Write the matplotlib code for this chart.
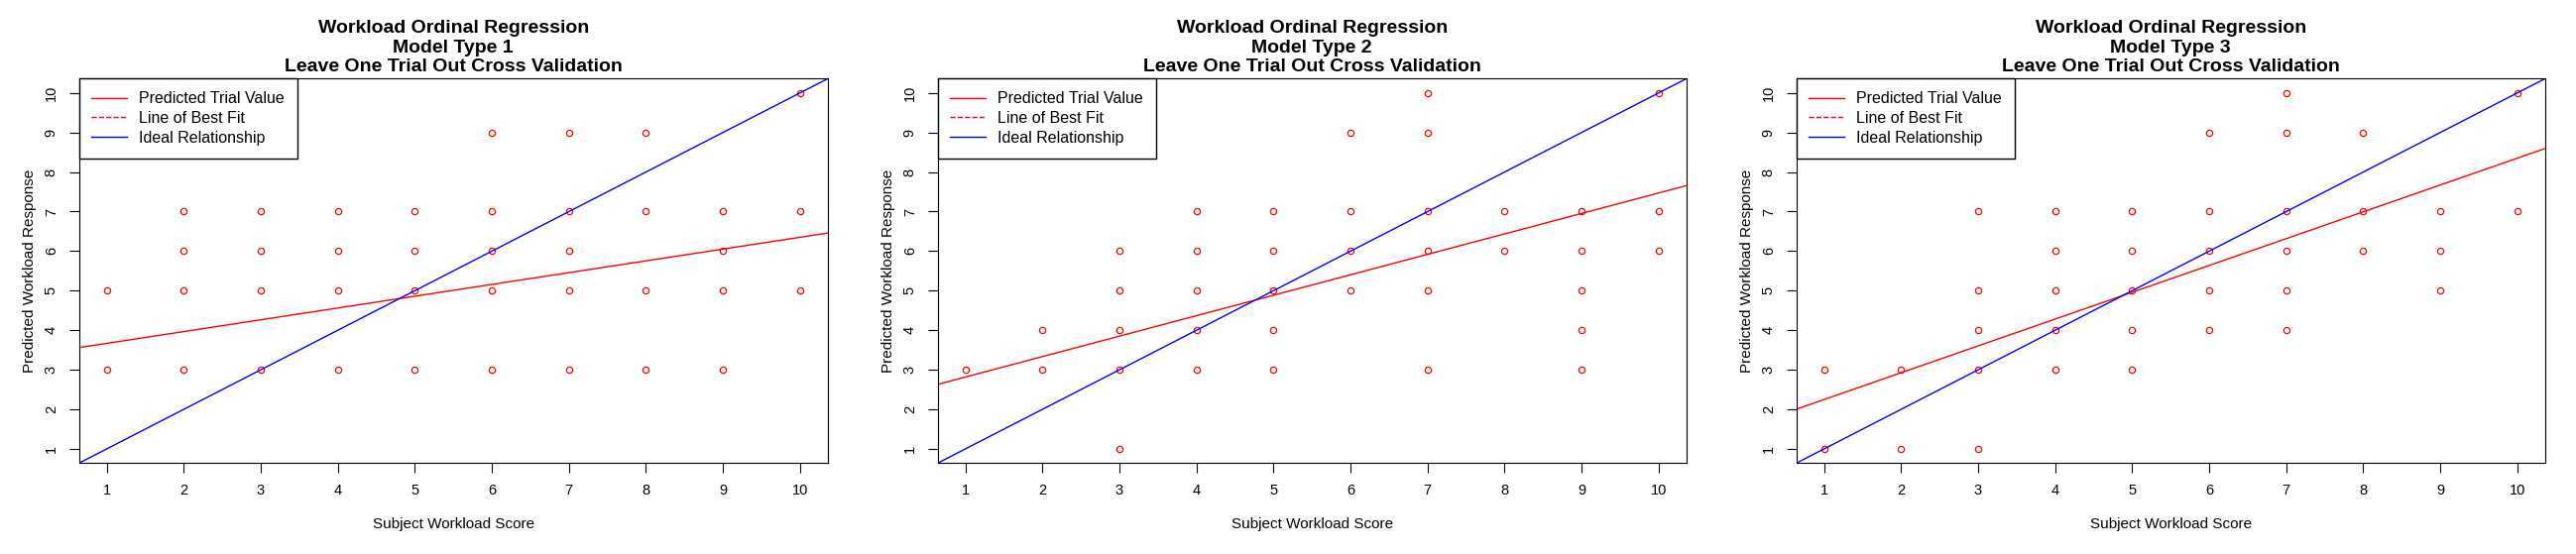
import matplotlib.pyplot as plt

plt.rcParams['font.family'] = ['Liberation Sans', 'DejaVu Sans']

scores = list(range(1, 11))

# predicted responses per subject workload score, one dict per model type
model1 = {1: [3, 5], 2: [3, 5, 6, 7], 3: [3, 5, 6, 7], 4: [3, 5, 6, 7], 5: [3, 5, 6, 7],
          6: [3, 5, 6, 7, 9], 7: [3, 5, 6, 7, 9], 8: [3, 5, 7, 9], 9: [3, 5, 6, 7], 10: [5, 7, 10]}
model2 = {1: [3], 2: [3, 4], 3: [1, 3, 4, 5, 6], 4: [3, 4, 5, 6, 7], 5: [3, 4, 5, 6, 7],
          6: [5, 6, 7, 9], 7: [3, 5, 6, 7, 9, 10], 8: [6, 7], 9: [3, 4, 5, 6, 7], 10: [6, 7, 10]}
model3 = {1: [1, 3], 2: [1, 3], 3: [1, 3, 4, 5, 7], 4: [3, 4, 5, 6, 7], 5: [3, 4, 5, 6, 7],
          6: [4, 5, 6, 7, 9], 7: [4, 5, 6, 7, 9, 10], 8: [6, 7, 9], 9: [5, 6, 7], 10: [7, 10]}
models = [model1, model2, model3]

# line of best fit (intercept, slope)
fits = [(3.37, 0.298), (2.30, 0.517), (1.57, 0.678)]

fig = plt.figure(figsize=(25.98, 5.59), dpi=100)

for i, (data, (b0, b1)) in enumerate(zip(models, fits)):
    ax = fig.add_axes([i / 3 + 0.092 / 3, 0.164, 0.872 / 3, 0.694])
    xs = [x for x in scores for _ in data[x]]
    ys = [y for x in scores for y in data[x]]
    ax.plot(xs, ys, 'o', ms=4.5, mfc='none', mec='red', mew=0.9, ls='none')
    lo, hi = 0.64, 10.36
    ax.plot([lo, hi], [b0 + b1 * lo, b0 + b1 * hi], color='red', lw=1)
    ax.plot([lo, hi], [lo, hi], color='blue', lw=1)
    ax.set_xlim(lo, hi)
    ax.set_ylim(lo, hi)
    ax.set_xticks(scores)
    ax.set_yticks(scores)
    ax.tick_params(labelsize=10.5, length=7, pad=8)
    for lab in ax.get_yticklabels():
        lab.set_rotation(90)
        lab.set_va('center')
    ax.set_title(f"Workload Ordinal Regression\nModel Type {i + 1}\nLeave One Trial Out Cross Validation",
                 fontsize=14, fontweight='bold', linespacing=1.2, pad=5)
    ax.set_xlabel("Subject Workload Score", fontsize=11, labelpad=14)
    ax.set_ylabel("Predicted Workload Response", fontsize=11, labelpad=6)
    h1, = ax.plot([], [], color='red', lw=1)
    h2, = ax.plot([], [], color='red', lw=1, ls='--')
    h3, = ax.plot([], [], color='blue', lw=1)
    leg = ax.legend([h1, h2, h3], ["Predicted Trial Value", "Line of Best Fit", "Ideal Relationship"],
                    loc='upper left', borderaxespad=0, fancybox=False, fontsize=11.5,
                    edgecolor='black', framealpha=1, handlelength=2.2, borderpad=0.8,
                    labelspacing=0.3)
    leg.get_frame().set_linewidth(1)

fig.savefig('out.png', dpi=100)
